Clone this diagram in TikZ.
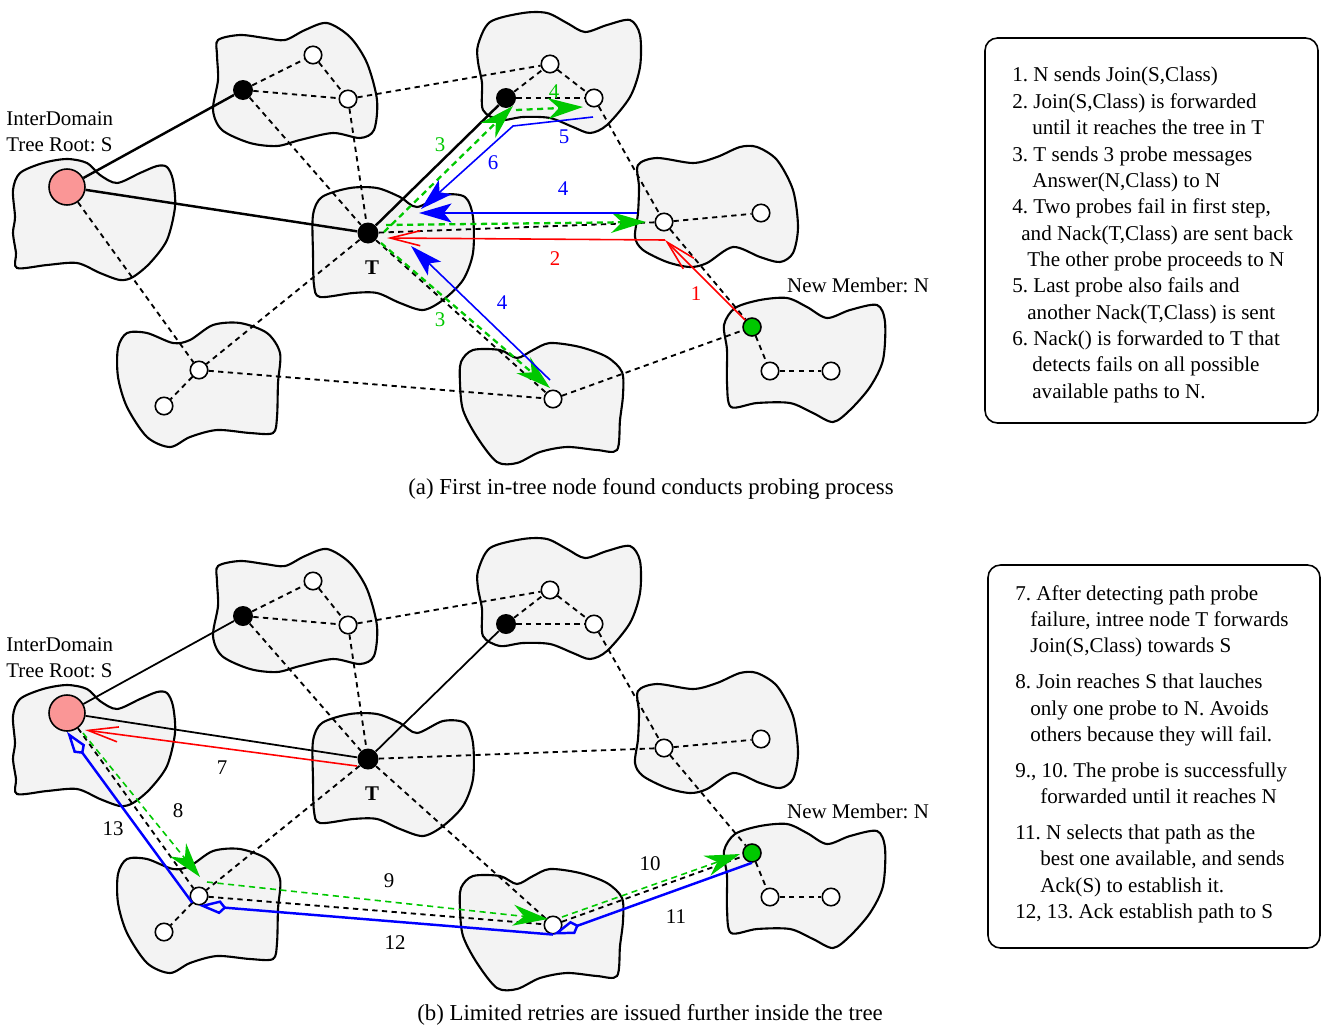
\documentclass[tikz,border=0pt]{standalone}
\usepackage{fontspec}
\setmainfont{Liberation Serif}
\frenchspacing
\usetikzlibrary{arrows.meta}
\definecolor{probegreen}{RGB}{0,200,0}
\definecolor{rootpink}{RGB}{250,150,150}
\definecolor{domgray}{RGB}{243,243,243}
\tikzset{
  domblob/.style={draw, line width=1.2pt, fill=domgray},
  hostnode/.style={circle, draw, line width=0.9pt, fill=white, inner sep=0pt, minimum size=3.5mm},
  intree/.style={circle, fill=black, inner sep=0pt, minimum size=4mm},
  rootnode/.style={circle, draw, line width=0.9pt, fill=rootpink, inner sep=0pt, minimum size=7.2mm},
  newnode/.style={circle, draw, line width=0.9pt, fill=probegreen, inner sep=0pt, minimum size=3.6mm},
  lnk/.style={dash pattern=on 3pt off 2.5pt, line width=1.05pt},
  treelink/.style={line width=1.4pt},
  probemsg/.style={-{Stealth[length=7mm,width=4.2mm,inset=2.2mm]}, probegreen, dash pattern=on 3.5pt off 2.5pt, line width=1.3pt},
  nackmsg/.style={-{Stealth[length=6.5mm,width=3.8mm,inset=1.5mm]}, blue, line width=0.9pt},
  joinmsg/.style={-{Straight Barb[length=6mm,width=3mm]}, red, line width=0.9pt},
  ackmsg/.style={-{Kite[open,length=5.5mm,width=2.8mm,inset=1.3mm]}, blue, line width=1.4pt},
  lbl/.style={inner sep=0pt, font=\fontsize{11.9}{15}\selectfont},
  caplbl/.style={inner sep=0pt, font=\fontsize{13}{15}\selectfont},
  notes/.style={inner sep=0pt, align=left, font=\fontsize{12}{15}\selectfont},
  notebox/.style={draw, line width=0.9pt, rounded corners=0.25cm}
}
% one network of domains, drawn once per panel (#1 = width of the tree links)
\newcommand{\drawnet}[1]{%
\draw[domblob] plot[smooth cycle] coordinates {(13,190) (20,173) (43,163) (67,159) (87,163) (100,175)
  (117,183) (140,173) (157,166) (167,167) (173,180) (175,207) (167,240) (150,263) (133,277) (120,280)
  (100,273) (77,263) (47,265) (17,268) (16,253) (13,233) (15,217)};
\draw[domblob] plot[smooth cycle] coordinates {(218,40) (240,35) (265,38) (285,40) (305,30) (327,23)
  (350,37) (367,63) (377,100) (374,130) (360,138) (333,133) (300,140) (277,146) (250,143) (222,130)
  (213,110) (218,80) (217,55)};
\draw[domblob] plot[smooth cycle] coordinates {(478,45) (490,22) (523,13) (547,13) (567,23) (585,32)
  (607,25) (630,20) (640,35) (640,67) (630,97) (607,125) (590,133) (573,127) (550,118) (523,117)
  (500,120) (483,110) (482,83) (478,62)};
\draw[domblob] plot[smooth cycle] coordinates {(313,215) (322,197) (350,188) (377,188) (400,197)
  (417,207) (443,195) (465,197) (473,217) (473,253) (463,280) (443,300) (423,310) (400,303)
  (377,293) (353,293) (320,297) (314,285) (313,253)};
\draw[domblob] plot[smooth cycle] coordinates {(638,165) (657,158) (693,163) (717,157) (740,147)
  (757,147) (777,160) (793,190) (798,227) (793,253) (780,262) (760,257) (733,247) (707,263)
  (690,267) (667,262) (643,250) (635,237) (638,213) (639,187)};
\draw[domblob] plot[smooth cycle] coordinates {(724,325) (735,308) (760,300) (787,298) (807,307)
  (827,318) (850,310) (877,305) (885,322) (883,360) (870,387) (850,410) (833,422) (813,413)
  (790,403) (757,403) (731,407) (727,383) (727,350)};
\draw[domblob] plot[smooth cycle] coordinates {(461,362) (473,350) (500,350) (517,358) (533,350)
  (550,343) (580,347) (607,357) (622,372) (623,395) (620,420) (617,450) (597,450) (567,447)
  (540,452) (517,463) (497,462) (477,437) (463,410) (460,383)};
\draw[domblob] plot[smooth cycle] coordinates {(118,348) (127,333) (147,333) (173,343) (190,340)
  (213,325) (240,323) (267,333) (280,353) (278,383) (277,417) (273,433) (250,433) (217,430)
  (190,437) (170,447) (147,437) (127,407) (118,377)};
% hosts
\node[rootnode] (S) at (67,187) {};
\node[intree, minimum size=4.2mm] (T) at (368,233) {};
\node[newnode] (N) at (752,327) {};
\node[intree] (A1) at (243,90) {};
\node[hostnode] (A2) at (313,55) {};
\node[hostnode] (A3) at (348,99) {};
\node[intree] (B1) at (506,98) {};
\node[hostnode] (B2) at (550,64) {};
\node[hostnode] (B3) at (594,98) {};
\node[hostnode] (C1) at (664,222) {};
\node[hostnode] (C2) at (761,213) {};
\node[hostnode] (D1) at (553,399) {};
\node[hostnode] (E1) at (199,370) {};
\node[hostnode] (E2) at (164,406) {};
\node[hostnode] (N2) at (770,371) {};
\node[hostnode] (N3) at (831,371) {};
% links
\draw[lnk] (A1) -- (A2);
\draw[lnk] (A2) -- (A3);
\draw[lnk] (A1) -- (A3);
\draw[lnk] (B1) -- (B2);
\draw[lnk] (B2) -- (B3);
\draw[lnk] (B1) -- (B3);
\draw[lnk] (A3) -- (B2);
\draw[lnk] (A1) -- (T);
\draw[lnk] (A3) -- (T);
\draw[lnk] (T) -- (C1);
\draw[lnk] (T) -- (D1);
\draw[lnk] (T) -- (E1);
\draw[lnk] (S) -- (E1);
\draw[lnk] (E1) -- (E2);
\draw[lnk] (E1) -- (D1);
\draw[lnk] (D1) -- (N);
\draw[lnk] (B3) -- (C1);
\draw[lnk] (C1) -- (C2);
\draw[lnk] (C1) -- (N);
\draw[lnk] (N) -- (N2);
\draw[lnk] (N2) -- (N3);
\draw[treelink, line width=#1] (S) -- (A1);
\draw[treelink, line width=#1] (S) -- (T);
\draw[treelink, line width=#1] (T) -- (B1);
\node[lbl, align=left, anchor=west] (rootlbl) at (6,132) {InterDomain\\Tree Root: S};
\node[lbl] (newlbl) at (858,285) {New Member: N};
\node[lbl, font=\fontsize{11.9}{15}\selectfont\bfseries] (Tlbl) at (372,268) {T};
}

\begin{document}
\begin{tikzpicture}[x=0.02cm, y=-0.02cm]
\useasboundingbox (0,0) rectangle (1321,1028);
% (a) probing from T
\drawnet{1.4pt}
\coordinate (J1) at (665,240);
\coordinate (J2) at (387,238);
\coordinate (P1s) at (384,232);
\coordinate (P1e) at (513,106);
\coordinate (P2s) at (386,225);
\coordinate (P2e) at (646,222);
\coordinate (P3s) at (381,243);
\coordinate (P3e) at (550,388);
\coordinate (P4s) at (516,110);
\coordinate (P4e) at (583,107);
\coordinate (K1s) at (637,213);
\coordinate (K1e) at (419,213);
\coordinate (K2s) at (550,380);
\coordinate (K2e) at (411,246);
\coordinate (K3s) at (593,117);
\coordinate (K3m) at (513,126);
\coordinate (K3e) at (421,209);
\draw[joinmsg] (N.north west) -- (J1);
\draw[joinmsg] (J1) -- (J2);
\draw[probemsg] (P1s) -- (P1e);
\draw[probemsg] (P2s) -- (P2e);
\draw[probemsg] (P3s) -- (P3e);
\draw[probemsg] (P4s) -- (P4e);
\draw[nackmsg] (K1s) -- (K1e);
\draw[nackmsg] (K2s) -- (K2e);
\draw[nackmsg] (K3s) -- (K3m) -- (K3e);
\node[lbl, red] (s1) at (696,294) {1};
\node[lbl, red] (s2) at (555,259) {2};
\node[lbl, probegreen] (s3a) at (440,145) {3};
\node[lbl, probegreen] (s3b) at (440,320) {3};
\node[lbl, probegreen] (s4a) at (554,92) {4};
\node[lbl, blue] (s4b) at (563,189) {4};
\node[lbl, blue] (s4c) at (502,303) {4};
\node[lbl, blue] (s5) at (564,137) {5};
\node[lbl, blue] (s6) at (493,163) {6};
\node[caplbl] (capA) at (651,489) {(a) First in-tree node found conducts probing process};
\draw[notebox] (985,38) rectangle (1318,423);
\node[notes, anchor=north west] (stepsA) at (1012,67) {1. N sends Join(S,Class)\\
2. Join(S,Class) is forwarded\\
\hspace*{0.4cm}until it reaches the tree in T\\
3. T sends 3 probe messages\\
\hspace*{0.4cm}Answer(N,Class) to N\\
4. Two probes fail in first step,\\
\hspace*{0.18cm}and Nack(T,Class) are sent back\\
\hspace*{0.3cm}The other probe proceeds to N\\
5. Last probe also fails and\\
\hspace*{0.3cm}another Nack(T,Class) is sent\\
6. Nack() is forwarded to T that\\
\hspace*{0.4cm}detects fails on all possible\\
\hspace*{0.4cm}available paths to N.};
% (b) retry from S
\begin{scope}[shift={(0,526)}]
\drawnet{1pt}
\coordinate (J7s) at (357,240);
\coordinate (J7e) at (85,204);
\coordinate (G8s) at (83,207);
\coordinate (G8e) at (200,351);
\coordinate (G9s) at (207,356);
\coordinate (G9e) at (548,393);
\coordinate (G10s) at (562,391);
\coordinate (G10e) at (740,328);
\draw[joinmsg] (J7s) -- (J7e);
\draw[probemsg, line width=0.9pt] (G8s) -- (G8e);
\draw[probemsg, line width=0.9pt] (G9s) -- (G9e);
\draw[probemsg, line width=0.9pt] (G10s) -- (G10e);
\draw[ackmsg] (N.south) -- (D1.south);
\draw[ackmsg] (D1.south) -- (E1.south);
\draw[ackmsg] (E1.south west) -- (S.south);
\node[lbl] (s7) at (222,242) {7};
\node[lbl] (s8) at (178,285) {8};
\node[lbl] (s9) at (389,355) {9};
\node[lbl] (s10) at (650,338) {10};
\node[lbl] (s11) at (676,391) {11};
\node[lbl] (s12) at (395,417) {12};
\node[lbl] (s13) at (113,303) {13};
\end{scope}
\node[caplbl] (capB) at (650,1015) {(b) Limited retries are issued further inside the tree};
\draw[notebox] (988,565) rectangle (1320,948);
\node[notes, anchor=north west] (stepsB) at (1015,585) {7. After detecting path probe\\
\hspace*{0.3cm}failure, intree node T forwards\\
\hspace*{0.3cm}Join(S,Class) towards S\\[0.19cm]
8. Join reaches S that lauches\\
\hspace*{0.3cm}only one probe to N. Avoids\\
\hspace*{0.3cm}others because they will fail.\\[0.19cm]
9., 10. The probe is successfully\\
\hspace*{0.5cm}forwarded until it reaches N\\[0.19cm]
11. N selects that path as the\\
\hspace*{0.5cm}best one available, and sends\\
\hspace*{0.5cm}Ack(S) to establish it.\\
12, 13. Ack establish path to S};
\end{tikzpicture}
\end{document}
